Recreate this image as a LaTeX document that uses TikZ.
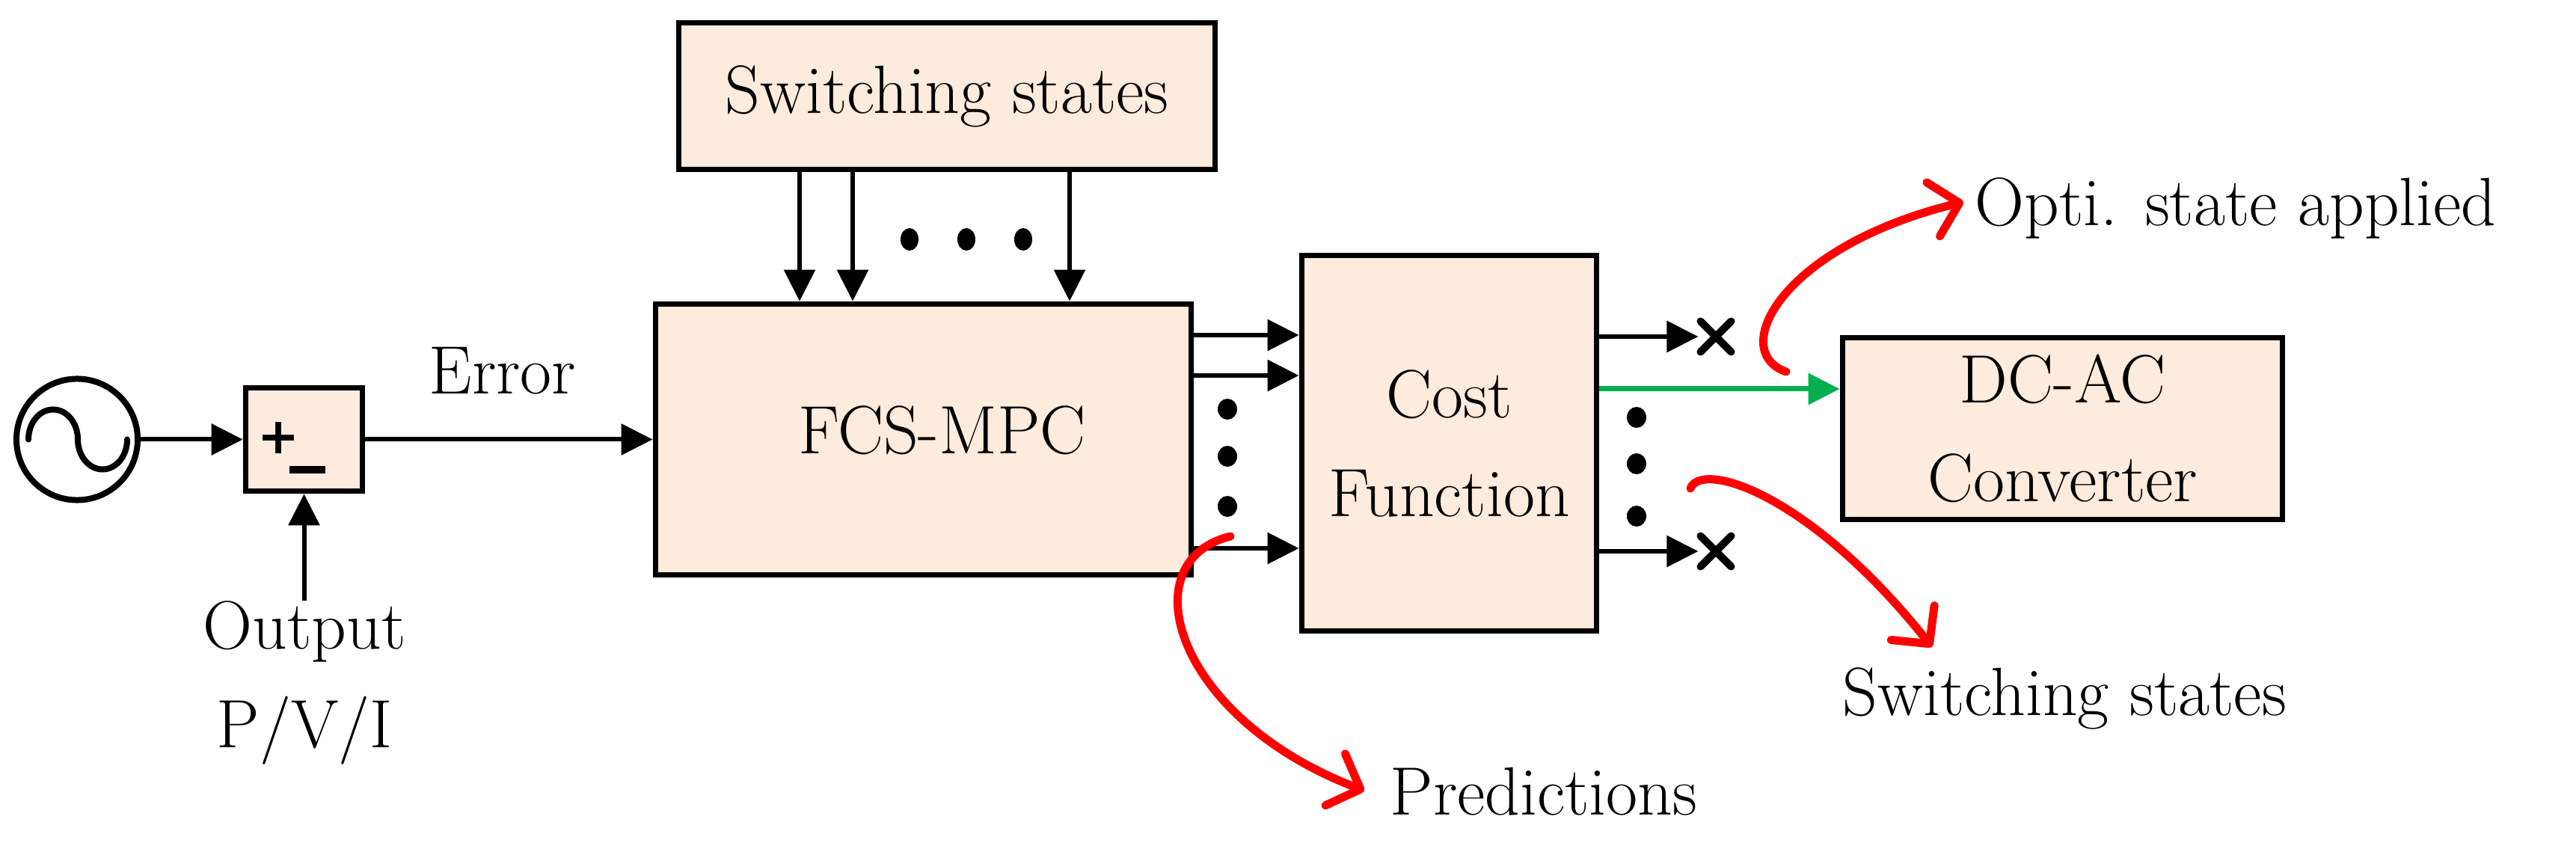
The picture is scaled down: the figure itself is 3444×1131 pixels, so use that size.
\documentclass[tikz,border=0pt]{standalone}
\usepackage{fontspec}
\newfontfamily\djv{DejaVu Sans}
\usetikzlibrary{arrows.meta,shapes.misc}
\definecolor{boxfill}{HTML}{FDEBDD}
\definecolor{redarr}{HTML}{FF0000}
\definecolor{greenarr}{HTML}{00B050}
\begin{document}
\begin{tikzpicture}[x=0.01cm,y=-0.01cm,
  lbl/.style={font=\fontsize{26}{37.5}\selectfont, inner sep=0pt},
  blk/.style={draw, fill=boxfill, line width=0.075cm, inner sep=0pt,
    font=\fontsize{26}{37.5}\selectfont, align=center},
  arr/.style={line width=0.06cm, -{Triangle[length=0.42cm,width=0.41cm]}},
  garr/.style={draw=greenarr, line width=0.07cm, -{Triangle[length=0.42cm,width=0.41cm]}},
  rarr/.style={draw=redarr, line width=0.11cm, line cap=round,
    -{Straight Barb[length=0.36cm,width=0.74cm,round]}},
  xm/.style={cross out, draw, line width=0.1cm, minimum size=0.31cm, inner sep=0pt, line cap=round},
  dotm/.style={fill=black}
]
\useasboundingbox (0,0) rectangle (3444,1131);
\fill[white] (0,0) rectangle (3444,1131);

% source
\node[draw, circle, line width=0.08cm, minimum size=1.62cm, inner sep=0pt] (src) at (103,587.5) {};
\draw[line width=0.08cm, line cap=round] (38,587.5)
  arc[start angle=180, end angle=0, x radius=0.33cm, y radius=0.40cm]
  arc[start angle=180, end angle=360, x radius=0.33cm, y radius=0.40cm];

% summing block
\node[blk, minimum width=1.56cm, minimum height=1.38cm] (sum) at (406.5,587.5) {};
\node[font=\djv\bfseries\fontsize{19}{19}\selectfont, inner sep=0pt] (plus) at (372,586) {+};
\node[fill=black, minimum width=0.48cm, minimum height=0.095cm, inner sep=0pt] (minus) at (411,628) {};

\node[lbl, align=center, anchor=north] (out) at (407,803) {Output\\P/V/I};
\node[lbl, anchor=base] (err) at (672,527) {Error};

% main blocks
\node[blk, minimum width=7.16cm, minimum height=3.62cm,
  label={[lbl, xshift=0.25cm, yshift=0.12cm]center:FCS-MPC}] (fcs) at (1234.5,587.5) {};
\node[blk, minimum width=7.17cm, minimum height=1.96cm] (top) at (1266,128.5) {Switching states};
\node[blk, minimum width=3.94cm, minimum height=5.02cm] (cost) at (1937.5,592.5) {Cost\\Function};
\node[blk, minimum width=5.88cm, minimum height=2.43cm] (dcac) at (2757.5,573) {DC-AC\\Converter};

% connectors
\draw[arr] (src) -- (sum);
\draw[arr] (out.north -| sum.south) -- (sum.south);
\draw[arr] (sum) -- (fcs);
\foreach \xx in {1069,1140,1430}
  \draw[arr] (\xx,0 |- top.south) -- (\xx,0 |- fcs.north);
\foreach \xx in {1216,1292,1368}
  \fill[dotm] (\xx,320) ellipse[x radius=0.12cm, y radius=0.15cm];
\foreach \yy in {448,502,733}
  \draw[arr] (fcs.east |- 0,\yy) -- (cost.west |- 0,\yy);
\foreach \yy in {547,610,677}
  \fill[dotm] (1641,\yy) ellipse[x radius=0.13cm, y radius=0.14cm];

\node[xm] (x1) at (2294,450) {};
\node[xm] (x2) at (2294,737) {};
\draw[arr] (cost.east |- x1) -- ([xshift=-0.03cm]x1.west);
\draw[arr] (cost.east |- x2) -- ([xshift=-0.03cm]x2.west);
\foreach \yy in {558,620,690}
  \fill[dotm] (2188,\yy) ellipse[x radius=0.13cm, y radius=0.14cm];
\draw[garr] (cost.east |- 0,520) -- (dcac.west |- 0,520);

% annotations
\node[lbl, anchor=base west] (opti) at (2640,302) {Opti. state applied};
\node[lbl, anchor=base west] (pred) at (1858,1090) {Predictions};
\node[lbl, anchor=base west] (sw2) at (2463,957) {Switching states};

\coordinate (r1s) at (1645,717);
\coordinate (r1e) at (1824,1057);
\draw[rarr] (r1s) .. controls (1510,750) and (1570,960) .. (r1e);
\coordinate (r2s) at (2388,497);
\coordinate (r2e) at (2625,270);
\draw[rarr] (r2s) .. controls (2310,470) and (2380,330) .. (r2e);
\coordinate (r3s) at (2260,653);
\coordinate (r3e) at (2583,865);
\draw[rarr] (r3s) .. controls (2275,615) and (2420,660) .. (r3e);
\end{tikzpicture}
\end{document}
